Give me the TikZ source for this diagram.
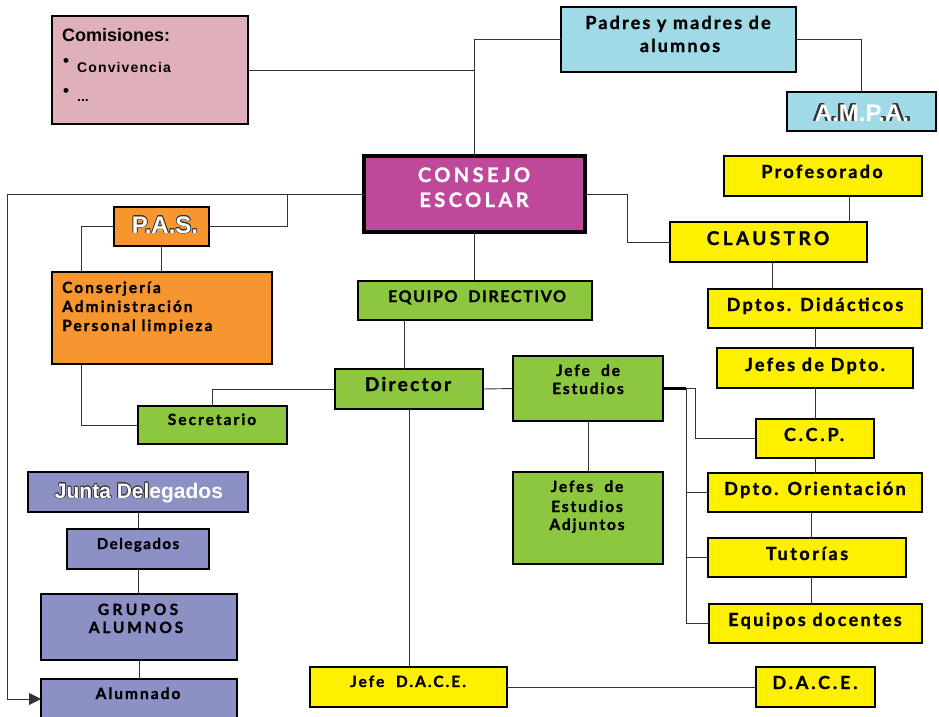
\documentclass[tikz,border=0pt]{standalone}
\usepackage{fontspec}
\setmainfont{Lato}
\newfontfamily\arialf{Liberation Sans}
\usetikzlibrary{arrows.meta}
\definecolor{cpink}{HTML}{E0B0BA}
\definecolor{cblue}{HTML}{A0DAE6}
\definecolor{cmag}{HTML}{C0489A}
\definecolor{corange}{HTML}{F7962F}
\definecolor{cgreen}{HTML}{8DC63F}
\definecolor{cyellow}{HTML}{FFF000}
\definecolor{cpurple}{HTML}{8C90C4}
\newcommand\gs[2]{\fontspec{Lato Bold}[LetterSpace=#2,FakeBold=1.2]\fontsize{#1}{#1}\selectfont}
\newcommand\outlinedtext[5]{%
  \foreach \a in {0,30,...,330} {
    \node[anchor=base, font=\arialf\bfseries\fontsize{#2}{#2}\selectfont, text=black!80, inner sep=0pt]
      at ([shift={(\a:0.65pt)}]#1) {#3\phantom{#4}#5};
  }
  \node[anchor=base, font=\arialf\bfseries\fontsize{#2}{#2}\selectfont, text=white, inner sep=0pt] at (#1) {#3#4#5};
}
\tikzset{
  box/.style={draw=black, line width=1.8pt, anchor=north west, inner sep=0pt, outer sep=0pt},
  conn/.style={draw=black!80, line width=0.9pt},
  lbl/.style={anchor=base, inner sep=0pt},
}
\begin{document}
\begin{tikzpicture}[x=1pt,y=-1pt]
\useasboundingbox (0,0) rectangle (939,716);
% boxes
\node[box, fill=cpink, minimum width=196, minimum height=108] (comis) at (52,16) {};
\node[box, fill=cblue, minimum width=235, minimum height=65] (padres) at (561,7) {};
\node[box, fill=cblue, minimum width=149, minimum height=39] (ampa) at (787,92) {};
\node[box, fill=cmag, line width=4pt, minimum width=221, minimum height=76] (consejo) at (364,156) {};
\node[box, fill=corange, minimum width=95, minimum height=39] (pas) at (114,207) {};
\node[box, fill=corange, minimum width=220, minimum height=92] (conserj) at (52,272) {};
\node[box, fill=cgreen, minimum width=149, minimum height=38] (secret) at (138,406) {};
\node[box, fill=cgreen, minimum width=234, minimum height=39] (equipo) at (358,281) {};
\node[box, fill=cgreen, minimum width=148, minimum height=40] (director) at (335,369) {};
\node[box, fill=cgreen, minimum width=150, minimum height=65] (jefeest) at (513,356) {};
\node[box, fill=cgreen, minimum width=150, minimum height=92] (adjuntos) at (513,472) {};
\node[box, fill=cyellow, minimum width=197, minimum height=40] (jdace) at (310,667) {};
\node[box, fill=cyellow, minimum width=119, minimum height=40] (dace) at (756,667) {};
\node[box, fill=cyellow, minimum width=198, minimum height=40] (profes) at (724,156) {};
\node[box, fill=cyellow, minimum width=197, minimum height=40] (claustro) at (670,222) {};
\node[box, fill=cyellow, minimum width=214, minimum height=39] (dptos) at (708,289) {};
\node[box, fill=cyellow, minimum width=196, minimum height=40] (jefesdpto) at (717,348) {};
\node[box, fill=cyellow, minimum width=118, minimum height=39] (ccp) at (756,419) {};
\node[box, fill=cyellow, minimum width=214, minimum height=39] (orient) at (708,473) {};
\node[box, fill=cyellow, minimum width=198, minimum height=39] (tutorias) at (708,538) {};
\node[box, fill=cyellow, minimum width=213, minimum height=39] (equipos) at (709,604) {};
\node[box, fill=cpurple, minimum width=220, minimum height=40] (junta) at (28,472) {};
\node[box, fill=cpurple, minimum width=142, minimum height=40] (delegados) at (67,529) {};
\node[box, fill=cpurple, minimum width=196, minimum height=66] (grupos) at (41,594) {};
\node[box, fill=cpurple, minimum width=196, minimum height=40] (alumnado) at (41,679) {};
% connectors
\draw[conn] (comis.east) -- (comis.east -| consejo.north);
\draw[conn] (consejo.north) |- (padres.west);
\draw[conn] (padres.east) -| (ampa.north);
\coordinate (lc) at (7,194);
\draw[conn, -{Triangle[length=12pt,width=12pt]}] (consejo.west) -- (lc) |- (alumnado.west);
\coordinate (pj) at (287,194);
\draw[conn] (pas.east) -| (pj);
\draw[conn] (pas.west) -| ([xshift=29pt]conserj.north west);
\draw[conn] (pas.south) -- (pas.south |- conserj.north);
\draw[conn] ([xshift=29pt]conserj.south west) |- (secret.west);
\draw[conn] (secret.north) |- (director.west);
\draw[conn] (consejo.south) -- (consejo.south |- equipo.north);
\draw[conn] ([xshift=-5pt]director.north) -- ([xshift=-5pt]director.north |- equipo.south);
\draw[conn] (director.south) -- (director.south |- jdace.north);
\draw[conn] (director.east) -- (jefeest.west);
\draw[conn] (jefeest.south) -- (adjuntos.north);
\draw[conn] (jdace.east) -- (dace.west);
\draw[conn] (consejo.east) -- ++(42,0) |- (claustro.west);
\draw[conn] ([xshift=26pt]profes.south) -- ([xshift=26pt]profes.south |- claustro.north);
\draw[conn] ([xshift=3.5pt]claustro.south) -- ([xshift=3.5pt]claustro.south |- dptos.north);
\draw[conn] (dptos.south) -- (dptos.south |- jefesdpto.north);
\draw[conn] (jefesdpto.south) -- (jefesdpto.south |- ccp.north);
\draw[conn] (ccp.south) -- (ccp.south |- orient.north);
\draw[conn] ([xshift=-4pt]orient.south) -- ([xshift=-4pt]orient.south |- tutorias.north);
\draw[conn] ([xshift=4pt]tutorias.south) -- ([xshift=4pt]tutorias.south |- equipos.north);
\coordinate (b1) at (686,388.5);
\coordinate (b2) at (695,388.5);
\draw[draw=black, line width=2.6pt] (jefeest.east) -- (b1);
\draw[conn] (b1) -- (b2) |- (ccp.west);
\draw[conn] (b1) |- (equipos.west);
\draw[conn] (b1 |- orient.west) -- (orient.west);
\draw[conn] (b1 |- tutorias.west) -- (tutorias.west);
\draw[conn] (junta.south) -- (junta.south |- delegados.north);
\draw[conn] (delegados.south) -- (delegados.south |- grupos.north);
\draw[conn] (grupos.south) -- (grupos.south |- alumnado.north);
% texts
\node[lbl, anchor=base west, font=\arialf\bfseries\fontsize{18}{18}\selectfont] (tcom) at (62,41) {Comisiones:};
\node[font=\arialf\bfseries\fontsize{17}{17}\selectfont] (bul1) at (66,62) {\textbullet};
\node[font=\arialf\bfseries\fontsize{17}{17}\selectfont] (bul2) at (66,92) {\textbullet};
\node[lbl, anchor=base west, font=\arialf\bfseries\addfontfeatures{LetterSpace=8}\fontsize{14}{14}\selectfont] (tconv) at (77,72) {Convivencia};
\node[lbl, anchor=base west, font=\arialf\bfseries\fontsize{14}{14}\selectfont] (tdots) at (77,101) {...};
\node[lbl, font=\gs{18}{12}] (tpad1) at (678,29) {Padres y madres de};
\node[lbl, font=\gs{18}{12}] (tpad2) at (680,52) {alumnos};
\outlinedtext{862,121}{24}{A.M}{.P}{.A.}
\node[lbl, font=\gs{20}{17}, text=white] (tcon1) at (474,182) {CONSEJO};
\node[lbl, font=\gs{20}{17}, text=white] (tcon2) at (474,207) {ESCOLAR};
\outlinedtext{165,233}{24}{P.A.S.}{}{}
\node[lbl, anchor=base west, font=\gs{15.5}{13}] (tc1) at (62,293) {Conserjería};
\node[lbl, anchor=base west, font=\gs{15.5}{13}] (tc2) at (62,312) {Administración};
\node[lbl, anchor=base west, font=\gs{15.5}{13}] (tc3) at (62,331) {Personal limpieza};
\node[lbl, font=\gs{15.5}{13}] (tsec) at (212,425) {Secretario};
\node[lbl, font=\gs{16}{10}] (teq) at (477,302) {EQUIPO\ \ DIRECTIVO};
\node[lbl, font=\gs{19}{12}] (tdir) at (408,391) {Director};
\node[lbl, font=\gs{15.5}{12}] (tje1) at (588,376) {Jefe\ \ de};
\node[lbl, font=\gs{15.5}{12}] (tje2) at (588,394) {Estudios};
\node[lbl, font=\gs{15.5}{12}] (tad1) at (587,492) {Jefes\ \ de};
\node[lbl, font=\gs{15.5}{12}] (tad2) at (587,512) {Estudios};
\node[lbl, font=\gs{15.5}{12}] (tad3) at (587,530) {Adjuntos};
\node[lbl, font=\gs{15.5}{13}] (tjd) at (408,687) {Jefe\ \ D.A.C.E.};
\node[lbl, font=\gs{18}{16}] (tdace) at (815,689) {D.A.C.E.};
\node[lbl, font=\gs{18}{13}] (tprof) at (822,178) {Profesorado};
\node[lbl, font=\gs{19}{18}] (tcla) at (768,245) {CLAUSTRO};
\node[lbl, font=\gs{18}{13}] (tdpt) at (815,311) {Dptos. Didácticos};
\node[lbl, font=\gs{18}{13}] (tjdp) at (815,371) {Jefes de Dpto.};
\node[lbl, font=\gs{18}{16}] (tccp) at (814,441) {C.C.P.};
\node[lbl, font=\gs{18}{13}] (tori) at (815,495) {Dpto. Orientación};
\node[lbl, font=\gs{18}{14}] (ttut) at (807,560) {Tutorías};
\node[lbl, font=\gs{18}{13}] (tequ) at (815,626) {Equipos docentes};
\outlinedtext{139,498}{21}{Junta Del}{egados}{}
\node[lbl, font=\gs{15}{10}] (tdel) at (138,549) {Delegados};
\node[lbl, font=\gs{15.5}{22}] (tgr1) at (138,615) {GRUPOS};
\node[lbl, font=\gs{15.5}{18}] (tgr2) at (136,633) {ALUMNOS};
\node[lbl, font=\gs{15.5}{13}] (talu) at (138,699) {Alumnado};
\end{tikzpicture}
\end{document}
